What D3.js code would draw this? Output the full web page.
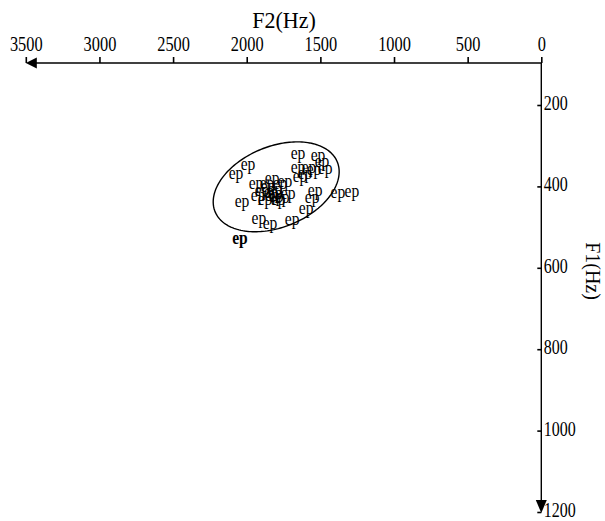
<!DOCTYPE html>
<html>
<head>
<meta charset="utf-8">
<script src="https://cdn.jsdelivr.net/npm/d3@7"></script>
<style>
  body { margin: 0; background: #fff; }
  text { font-family: "Liberation Serif", "Times New Roman", serif; }
</style>
</head>
<body>
<div id="chart"></div>
<script>
// vowel tokens, F2 / F1 in Hz
const labels = ["ep","ep","ep","ep","ep","ep","ep","ep","ep","ep","ep","ep","ep","ep","ep","ep","ep","ep","ep","ep","ep","ep","ep","ep","ep","ep","ep","ep","ep","ep","ep","ep","ep","ep","ep","ep","ep"];
const f2 = [1806,2073,1991,2032,1937,1828,1896,1855,1808,1774,1923,1876,1828,1787,1740,1719,1652,1516,1489,1652,1577,1604,1543,1468,1638,1536,1556,1597,1692,1917,1842,1381,1286,1862,1835,1800,1760];
const f1 = [416,367,345,436,392,379,409,399,406,392,421,431,421,431,387,416,318,323,338,352,352,367,357,355,374,409,426,453,480,478,490,414,411,392,414,424,426];
const boldF2 = [2046];
const boldF1 = [527];

// ellipse: centre and two semi-axis vectors (Hz)
const ellipseCenter = [1800, 401];
const ellipseAxes = [[-415, -61], [-103, 92]];

const xTicks = [3500, 3000, 2500, 2000, 1500, 1000, 500, 0];
const yTicks = [200, 400, 600, 800, 1000, 1200];

const width = 605, height = 521;

const svg = d3.select("#chart")
  .append("svg")
  .attr("width", width)
  .attr("height", height);

const x = d3.scaleLinear().domain([3500, 0]).range([25.8, 541.3]);
const y = d3.scaleLinear().domain([100, 1200]).range([64.3, 512]);
const axisY = 63;
const axisX = x(0);

// F2 axis (top)
const gx = svg.append("g")
  .attr("transform", `translate(0,${axisY})`)
  .call(d3.axisTop(x).tickValues(xTicks).tickSize(6).tickPadding(6).tickFormat(d3.format("d")));
gx.select(".domain").remove();
gx.selectAll(".tick line").attr("stroke", "#000").attr("stroke-width", 1.6);
gx.selectAll(".tick text")
  .attr("font-size", 21)
  .attr("font-family", "Liberation Serif")
  .attr("transform", "scale(0.78,1)")
  .attr("fill", "#000");

svg.append("line")
  .attr("x1", x(3500) + 8).attr("x2", axisX)
  .attr("y1", axisY).attr("y2", axisY)
  .attr("stroke", "#000").attr("stroke-width", 1.4);

svg.append("path")
  .attr("d", `M${x(3500)},${axisY} L${x(3500) + 11},${axisY - 5.5} L${x(3500) + 11},${axisY + 5.5} Z`)
  .attr("fill", "#000");

// F1 axis (right)
const gy = svg.append("g")
  .attr("transform", `translate(${axisX},0)`)
  .call(d3.axisRight(y).tickValues(yTicks).tickSize(-4).tickPadding(3).tickFormat(d3.format("d")));
gy.select(".domain").remove();
gy.selectAll(".tick line").attr("stroke", "#000").attr("stroke-width", 1.6);
gy.selectAll(".tick text")
  .attr("font-size", 20)
  .attr("dy", "0.22em")
  .attr("font-family", "Liberation Serif")
  .attr("transform", "scale(0.8,1)")
  .attr("fill", "#000");

svg.append("line")
  .attr("x1", axisX).attr("x2", axisX)
  .attr("y1", axisY).attr("y2", y(1200) - 8)
  .attr("stroke", "#000").attr("stroke-width", 1.4);

svg.append("path")
  .attr("d", `M${axisX},${y(1200) + 1} L${axisX - 5.5},${y(1200) - 12} L${axisX + 5.5},${y(1200) - 12} Z`)
  .attr("fill", "#000");

// axis titles
svg.append("text")
  .attr("transform", "translate(284,28) scale(0.92,1)")
  .attr("text-anchor", "middle")
  .attr("font-size", 24)
  .text("F2(Hz)");

svg.append("text")
  .attr("transform", "translate(586,271) rotate(90) scale(0.95,1)")
  .attr("text-anchor", "middle")
  .attr("font-size", 21)
  .text("F1(Hz)");

// ellipse
const angles = d3.range(0, 2 * Math.PI + 0.01, Math.PI / 90);
const ellipsePts = angles.map(t => [
  ellipseCenter[0] + Math.cos(t) * ellipseAxes[0][0] + Math.sin(t) * ellipseAxes[1][0],
  ellipseCenter[1] + Math.cos(t) * ellipseAxes[0][1] + Math.sin(t) * ellipseAxes[1][1]
]);
svg.append("path")
  .datum(ellipsePts)
  .attr("d", d3.line().x(d => x(d[0])).y(d => y(d[1])))
  .attr("fill", "none")
  .attr("stroke", "#000")
  .attr("stroke-width", 1.4);

// tokens
svg.selectAll("text.tok")
  .data(f2.map((d, i) => ({ f2: d, f1: f1[i], label: labels[i] })))
  .enter()
  .append("text")
  .attr("class", "tok")
  .attr("transform", d => `translate(${x(d.f2)},${y(d.f1)}) scale(0.82,1)`)
  .attr("dy", "0.3em")
  .attr("text-anchor", "middle")
  .attr("font-size", 19)
  .text(d => d.label);

svg.selectAll("text.mean")
  .data(boldF2.map((d, i) => ({ f2: d, f1: boldF1[i] })))
  .enter()
  .append("text")
  .attr("class", "mean")
  .attr("transform", d => `translate(${x(d.f2)},${y(d.f1)}) scale(0.82,1)`)
  .attr("dy", "0.3em")
  .attr("text-anchor", "middle")
  .attr("font-size", 19)
  .attr("font-weight", "bold")
  .text("ep");
</script>
</body>
</html>
